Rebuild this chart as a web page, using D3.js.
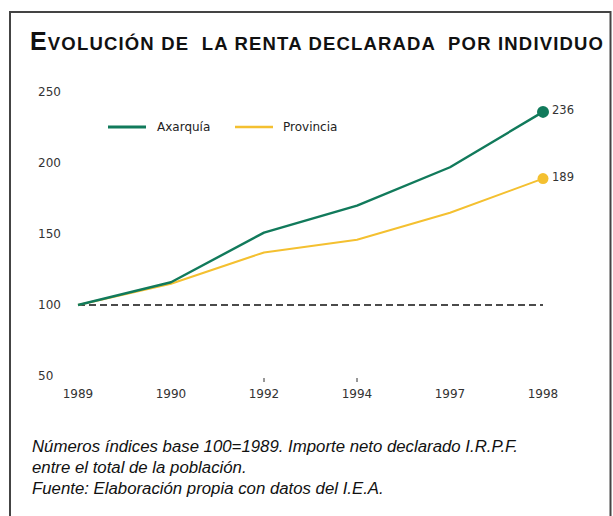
<!DOCTYPE html>
<html><head><meta charset="utf-8">
<script src="https://cdn.jsdelivr.net/npm/d3@7"></script>
<style>body{margin:0;background:#fff}svg{display:block}</style>
</head><body>
<script>
const years = ["1989","1990","1992","1994","1997","1998"];
const axarquia = [100,116,151,170,197,236];
const provincia = [100,115,137,146,165,189];
const yTicks = [50,100,150,200,250];
const markedYears = ["1992","1994"];
const seriesNames = ["Axarquía","Provincia"];
const colors = ["#117a5b","#f4c030"];

const W=613,H=516;
const svg=d3.select("body").append("svg").attr("width",W).attr("height",H);
svg.append("rect").attr("x",10).attr("y",12).attr("width",600.5).attr("height",H).attr("fill","#fff").attr("stroke","#444").attr("stroke-width",2);

const t=svg.append("text").attr("x",30).attr("y",50).attr("font-family","Liberation Sans, Arial, sans-serif").attr("font-weight","bold").attr("fill","#111").style("white-space","pre");
t.append("tspan").attr("font-size",25).text("E");
t.append("tspan").attr("font-size",18.5).text("VOLUCIÓN DE  LA RENTA DECLARADA  POR INDIVIDUO");
t.attr("textLength",573).attr("lengthAdjust","spacing");

const x=d3.scalePoint().domain(years).range([78,543]);
const y=d3.scaleLinear().domain([50,250]).range([376,92]);

const g=svg.append("g");
g.selectAll(".yl").data(yTicks).join("text").attr("x",38).attr("y",d=>y(d)+4)
 .attr("font-family","DejaVu Sans, sans-serif").attr("font-size",12).attr("fill","#333").text(d=>d);
g.selectAll(".xl").data(years).join("text").attr("x",d=>x(d)).attr("y",398).attr("text-anchor","middle")
 .attr("font-family","DejaVu Sans, sans-serif").attr("font-size",12).attr("fill","#333").text(d=>d);
g.selectAll(".xt").data(markedYears).join("line").attr("x1",d=>x(d)).attr("x2",d=>x(d)).attr("y1",378).attr("y2",382).attr("stroke","#333").attr("stroke-width",1);

g.append("line").attr("x1",x(years[0])).attr("x2",x(years[years.length-1])).attr("y1",y(100)).attr("y2",y(100))
 .attr("stroke","#111").attr("stroke-width",1.6).attr("stroke-dasharray","7,4");

const line=d3.line().x((d,i)=>x(years[i])).y(d=>y(d));
const data=[axarquia,provincia];
[1,0].forEach(k=>{
  g.append("path").attr("d",line(data[k])).attr("fill","none").attr("stroke",colors[k]).attr("stroke-width",k==0?2.4:2).attr("stroke-linejoin","round");
});
data.forEach((s,k)=>{
  const last=s[s.length-1];
  g.append("circle").attr("cx",x(years[years.length-1])).attr("cy",y(last)).attr("r",k==0?6:5.5).attr("fill",colors[k]);
  g.append("text").attr("x",x(years[years.length-1])+9).attr("y",y(last)+2).attr("font-family","DejaVu Sans, sans-serif")
   .attr("font-size",11.5).attr("fill","#333").text(last);
});

const lx=[108,235], tx=[157,283];
seriesNames.forEach((n,k)=>{
  svg.append("line").attr("x1",lx[k]).attr("x2",lx[k]+38).attr("y1",127).attr("y2",127).attr("stroke",colors[k]).attr("stroke-width",k==0?3:2.5);
  svg.append("text").attr("x",tx[k]).attr("y",131).attr("font-family","DejaVu Sans, sans-serif").attr("font-size",12).attr("fill","#222").text(n);
});

const notes=["Números índices base 100=1989. Importe neto declarado I.R.P.F.","entre el total de la población.","Fuente: Elaboración propia con datos del I.E.A."];
svg.selectAll(".fn").data(notes).join("text").attr("x",32).attr("y",(d,i)=>452+i*21)
 .attr("font-family","Liberation Sans, Arial, sans-serif").attr("font-style","italic").attr("font-size",16.8).attr("fill","#111").text(d=>d);
</script>
</body></html>
